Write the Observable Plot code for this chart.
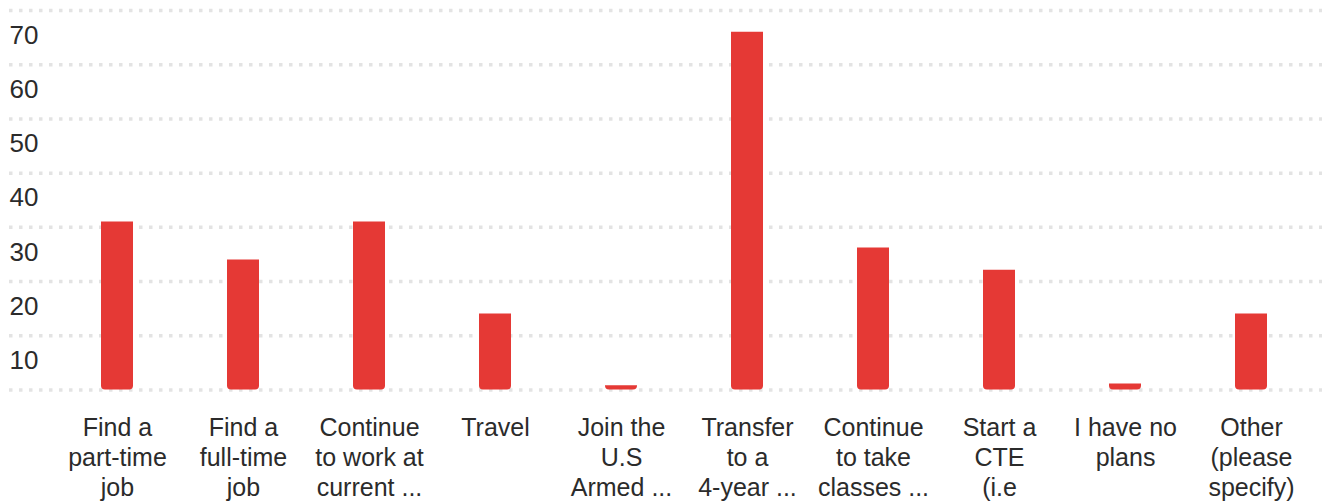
<!DOCTYPE html>
<html>
<head>
<meta charset="utf-8">
<script src="https://cdn.jsdelivr.net/npm/d3@7"></script>
<script src="https://cdn.jsdelivr.net/npm/@observablehq/plot@0.6"></script>
<style>
  html, body { margin: 0; padding: 0; background: #fff; }
  #chart svg { display: block; }
</style>
</head>
<body>
<div id="chart"></div>
<script>
const categories = [
  "Find a\npart-time\njob",
  "Find a\nfull-time\njob",
  "Continue\nto work at\ncurrent ...",
  "Travel",
  "Join the\nU.S\nArmed ...",
  "Transfer\nto a\n4-year ...",
  "Continue\nto take\nclasses ...",
  "Start a\nCTE\n(i.e",
  "I have no\nplans",
  "Other\n(please\nspecify)"
];
const values = [31, 24, 31, 14, 0.8, 66, 26.2, 22.1, 1.1, 14];
const gridTicks = [0, 10, 20, 30, 40, 50, 60, 70];
const labelTicks = [10, 20, 30, 40, 50, 60, 70];

const data = categories.map((c, i) => ({category: c, value: values[i]}));

const chart = Plot.plot({
  width: 1327,
  height: 502,
  marginTop: 10,
  marginBottom: 112.5,
  marginLeft: 9,
  marginRight: 5,
  style: {fontFamily: "'Liberation Sans', Arial, sans-serif", background: "#fff"},
  x: {domain: categories, range: [54, 1314], paddingInner: 0.746, paddingOuter: 0.373, axis: null},
  y: {domain: [0, 70], axis: null},
  marks: [
    Plot.gridY(gridTicks, {stroke: "#e3e3e3", strokeOpacity: 1, strokeWidth: 3.5, strokeDasharray: "3.5,6.5"}),
    Plot.barY(data, {x: "category", y: "value", fill: "#e53935", rx1y2: 4, rx2y2: 4}),
    Plot.text(labelTicks, {y: d => d, text: d => String(d), frameAnchor: "left", textAnchor: "start", dy: 25, fontSize: 26, fill: "#2b2b2b"}),
    Plot.text(categories, {x: d => d, text: d => d, frameAnchor: "bottom", lineAnchor: "top", textAnchor: "middle", dy: 24.5, fontSize: 25, lineHeight: 1.2, fill: "#2b2b2b"})
  ]
});
document.getElementById("chart").appendChild(chart);
</script>
</body>
</html>
